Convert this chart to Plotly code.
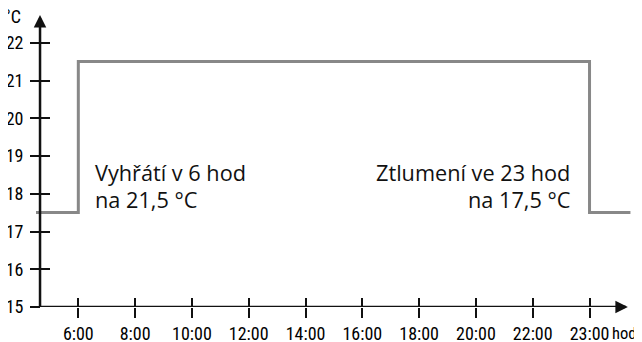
import plotly.graph_objects as go

# Data
tick_labels = ["6:00", "8:00", "10:00", "12:00", "14:00", "16:00", "18:00", "20:00", "22:00", "23:00"]
tick_pos = list(range(len(tick_labels)))           # equally spaced slots on the axis
y_ticks = [15, 16, 17, 18, 19, 20, 21, 22]
# step profile (x in axis slots, 6:00 = slot 0, 23:00 = slot 9)
step_x = [-0.745, 0, 9, 9.72]
step_y = [17.5, 21.5, 17.5, 17.5]
left_lines = ["Vyhřátí v 6 hod", "na 21,5 °C"]
right_lines = ["Ztlumení ve 23 hod", "na 17,5 °C"]

X_MIN, X_MAX = -0.745, 9.73
Y_MIN, Y_MAX = 15, 22.735
Y_AXIS_X = -0.674
X_AXIS_END = 9.64

# page body has an 8px margin, so the figure is offset by 8px
W, H = 642, 342
ML, MR, MT, MB = 28, 19, 7, 43.3
ypos = (Y_AXIS_X - X_MIN) / (X_MAX - X_MIN)

tick_font = dict(family="Roboto Condensed, DejaVu Sans Condensed, sans-serif", size=18, color="#000")
unit_font = dict(family="Roboto Condensed, DejaVu Sans Condensed, sans-serif", size=16.5, color="#000")
text_font = dict(family="Open Sans, Noto Sans, sans-serif", size=21.7, color="#111")

fig = go.Figure()
fig.add_trace(go.Scatter(x=step_x, y=step_y, mode="lines",
                         line=dict(color="#888888", width=3, shape="hv"),
                         hoverinfo="skip", showlegend=False))
# dummy trace to activate overlay axes
fig.add_trace(go.Scatter(x=[None], y=[None], xaxis="x2", yaxis="y2", showlegend=False))

axis_common = dict(showgrid=False, zeroline=False, showline=False, automargin=False)
fig.update_layout(
    width=W, height=H,
    margin=dict(l=ML, r=MR, t=MT, b=MB),
    paper_bgcolor="white", plot_bgcolor="white",
    xaxis=dict(range=[X_MIN, X_MAX], tickvals=tick_pos, ticktext=tick_labels,
               ticks="outside", ticklen=10, tickwidth=1.5, tickcolor="#111",
               tickfont=tick_font, ticklabelstandoff=0, **axis_common),
    yaxis=dict(range=[Y_MIN, Y_MAX], tickvals=y_ticks, ticktext=[str(v) for v in y_ticks],
               ticks="outside", ticklen=10, tickwidth=1.5, tickcolor="#111",
               tickfont=tick_font, anchor="free", position=ypos, ticklabelstandoff=3,
               **axis_common),
    xaxis2=dict(range=[X_MIN, X_MAX], tickvals=tick_pos, overlaying="x", anchor="y",
                ticks="inside", ticklen=9, tickwidth=1.5, tickcolor="#111",
                showticklabels=False, **axis_common),
    yaxis2=dict(range=[Y_MIN, Y_MAX], tickvals=y_ticks, overlaying="y", anchor="free",
                position=ypos, ticks="inside", ticklen=9, tickwidth=1.5, tickcolor="#111",
                showticklabels=False, **axis_common),
)

# axis lines
fig.add_shape(type="line", x0=Y_AXIS_X, x1=X_AXIS_END, y0=Y_MIN, y1=Y_MIN,
              line=dict(color="#111", width=2.5), layer="above")
fig.add_shape(type="line", x0=Y_AXIS_X, x1=Y_AXIS_X, y0=Y_MIN, y1=Y_MAX - 0.15,
              line=dict(color="#111", width=2.5), layer="above")
# arrow heads
fig.add_annotation(x=X_MAX - 0.055, y=Y_MIN, ax=-12, ay=0, text="", showarrow=True,
                   arrowhead=2, arrowsize=1, arrowwidth=2.5, arrowcolor="#111")
fig.add_annotation(x=Y_AXIS_X, y=Y_MAX, ax=0, ay=12, text="", showarrow=True,
                   arrowhead=2, arrowsize=1, arrowwidth=2.5, arrowcolor="#111")

# unit labels
fig.add_annotation(x=Y_AXIS_X, y=Y_MAX, xanchor="right", yanchor="middle", xshift=-17, yshift=-1.5,
                   text="°C", showarrow=False, font=tick_font)
fig.add_annotation(x=9.36, y=Y_MIN, xanchor="left", yanchor="middle", yshift=-26,
                   text="hod.", showarrow=False, font=unit_font)

# text annotations (one per line)
line_y = [18.564, 17.848]
for txt, yy in zip(left_lines, line_y):
    fig.add_annotation(x=0.26, y=yy, xanchor="left", yanchor="middle", align="left",
                       text=txt, showarrow=False, font=text_font)
for txt, yy in zip(right_lines, line_y):
    fig.add_annotation(x=8.687, y=yy, xanchor="right", yanchor="middle", align="right",
                       text=txt, showarrow=False, font=text_font)

fig.write_html("out.html")
